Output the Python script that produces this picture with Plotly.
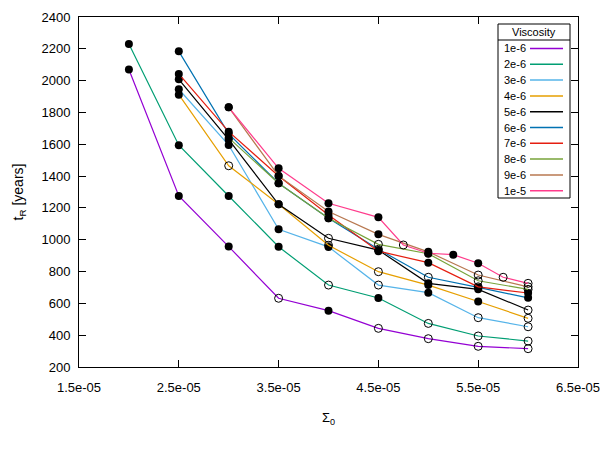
import plotly.graph_objects as go

# ---- data ----
sigma0 = [2.0e-5, 2.5e-5, 3.0e-5, 3.5e-5, 4.0e-5, 4.5e-5, 4.75e-5, 5.0e-5, 5.25e-5, 5.5e-5, 5.75e-5, 6.0e-5]
N = None
viscosity_labels = ["1e-6", "2e-6", "3e-6", "4e-6", "5e-6", "6e-6", "7e-6", "8e-6", "9e-6", "1e-5"]

t_1e6 = [2070, 1275, 957, 632, 554, 443, N, 378, N, 330, N, 315]
t_2e6 = [2230, 1594, 1275, 956, 715, 634, N, 474, N, 395, N, 363]
t_3e6 = [N, 1946, 1595, 1066, 955, 715, N, 667, N, 510, N, 453]
t_4e6 = [N, 1912, 1465, 1223, 965, 799, N, 715, N, 612, N, 506]
t_5e6 = [N, 2008, 1629, 1223, 1009, 935, N, 726, N, 688, N, 558]
t_6e6 = [N, 2184, 1665, 1355, 1135, 940, N, 764, N, 700, N, 635]
t_7e6 = [N, 2042, 1679, 1401, 1156, 928, N, 856, N, 704, N, 665]
t_8e6 = [N, N, 1640, 1355, 1135, 971, N, 912, N, 742, N, 688]
t_9e6 = [N, N, 1832, 1401, 1177, 1034, N, 924, N, 778, N, 704]
t_1e5 = [N, N, 1832, 1449, 1229, 1141, 967, 915, 906, 852, 764, 726]

# 1 = filled marker, 0 = open marker
f_1e6 = [1, 1, 1, 0, 1, 0, N, 0, N, 0, N, 0]
f_2e6 = [1, 1, 1, 1, 0, 1, N, 0, N, 0, N, 0]
f_3e6 = [N, 1, 1, 1, 1, 0, N, 1, N, 0, N, 0]
f_4e6 = [N, 1, 0, 1, 0, 0, N, 1, N, 1, N, 0]
f_5e6 = [N, 1, 1, 1, 0, 1, N, 1, N, 1, N, 0]
f_6e6 = [N, 1, 1, 1, 1, 0, N, 0, N, 1, N, 1]
f_7e6 = [N, 1, 1, 1, 1, 1, N, 1, N, 0, N, 1]
f_8e6 = [N, N, 1, 1, 1, 0, N, 1, N, 0, N, 0]
f_9e6 = [N, N, 1, 1, 1, 1, N, 1, N, 0, N, 0]
f_1e5 = [N, N, 1, 1, 1, 1, 0, 1, 1, 1, 0, 0]

colors = ["#9400d3", "#009e73", "#56b4e9", "#e69f00", "#000000",
          "#0072b2", "#e51e10", "#77a33a", "#b87850", "#ff3c8c"]

x_tickvals = [1.5e-5, 2.5e-5, 3.5e-5, 4.5e-5, 5.5e-5, 6.5e-5]
x_ticktext = ["1.5e-05", "2.5e-05", "3.5e-05", "4.5e-05", "5.5e-05", "6.5e-05"]
y_tickvals = [200, 400, 600, 800, 1000, 1200, 1400, 1600, 1800, 2000, 2200, 2400]

series_t = [t_1e6, t_2e6, t_3e6, t_4e6, t_5e6, t_6e6, t_7e6, t_8e6, t_9e6, t_1e5]
series_f = [f_1e6, f_2e6, f_3e6, f_4e6, f_5e6, f_6e6, f_7e6, f_8e6, f_9e6, f_1e5]

FONT = "Liberation Sans"
fig = go.Figure()

for lab, ts, fs, col in zip(viscosity_labels, series_t, series_f, colors):
    xs = [x for x, t in zip(sigma0, ts) if t is not None]
    ys = [t for t in ts if t is not None]
    fl = [f for f in fs if f is not None]
    fig.add_trace(go.Scatter(x=xs, y=ys, mode="lines", name=lab,
                             line=dict(color=col, width=1.2), showlegend=False))
    fig.add_trace(go.Scatter(x=[x for x, f in zip(xs, fl) if f == 1],
                             y=[y for y, f in zip(ys, fl) if f == 1],
                             mode="markers", showlegend=False,
                             marker=dict(symbol="circle", size=8, color="black",
                                         line=dict(width=0))))
    fig.add_trace(go.Scatter(x=[x for x, f in zip(xs, fl) if f == 0],
                             y=[y for y, f in zip(ys, fl) if f == 0],
                             mode="markers", showlegend=False,
                             marker=dict(symbol="circle-open", size=8, color="black",
                                         line=dict(width=1, color="black"))))

# ---- custom gnuplot-style legend (pixel -> paper) ----
L, T, W, H = 79, 17, 499, 350
def px(x):
    return (x - L) / W
def py(y):
    return (T + H - y) / H

shapes = []
annos = []
box_l, box_r, box_t, box_b, div = 498, 570, 24, 198, 40
shapes.append(dict(type="rect", xref="paper", yref="paper",
                   x0=px(box_l), x1=px(box_r), y0=py(box_b), y1=py(box_t),
                   line=dict(color="black", width=1), fillcolor="white", layer="above"))
shapes.append(dict(type="line", xref="paper", yref="paper",
                   x0=px(box_l), x1=px(box_r), y0=py(div), y1=py(div),
                   line=dict(color="black", width=1), layer="above"))
annos.append(dict(text="Viscosity", xref="paper", yref="paper", x=px(534), y=py(32),
                  xanchor="center", yanchor="middle", showarrow=False,
                  font=dict(family=FONT, size=11, color="black")))
for i, (lab, col) in enumerate(zip(viscosity_labels, colors)):
    yy = 48.5 + 15.8 * i
    annos.append(dict(text=lab, xref="paper", yref="paper", x=px(502), y=py(yy),
                      xanchor="left", yanchor="middle", showarrow=False,
                      font=dict(family=FONT, size=11, color="black")))
    shapes.append(dict(type="line", xref="paper", yref="paper",
                       x0=px(530), x1=px(563), y0=py(yy), y1=py(yy),
                       line=dict(color=col, width=1.5), layer="above"))

axis_common = dict(showline=True, linecolor="black", linewidth=1, mirror="ticks",
                   ticks="inside", ticklen=7, tickcolor="black", tickwidth=1,
                   showgrid=False, zeroline=False, ticklabeloverflow="allow",
                   tickfont=dict(family=FONT, size=13, color="black"))

fig.update_layout(
    width=600, height=450, autosize=False,
    margin=dict(l=L, r=600 - L - W, t=T, b=450 - T - H),
    plot_bgcolor="white", paper_bgcolor="white",
    font=dict(family=FONT, size=13, color="black"),
    shapes=shapes, annotations=annos, showlegend=False,
    xaxis=dict(range=[1.5e-5, 6.5e-5], tickvals=x_tickvals, ticktext=x_ticktext,
               ticklabelstandoff=8, automargin=False,
               title=dict(text="Σ<sub>0</sub>", standoff=19,
                          font=dict(family=FONT, size=13)), **axis_common),
    yaxis=dict(range=[200, 2400], tickvals=y_tickvals, ticklabelstandoff=5,
               automargin=False,
               title=dict(text="t<sub>R</sub> [years]", standoff=14,
                          font=dict(family=FONT, size=14)), **axis_common),
)

fig.write_html("out.html")
